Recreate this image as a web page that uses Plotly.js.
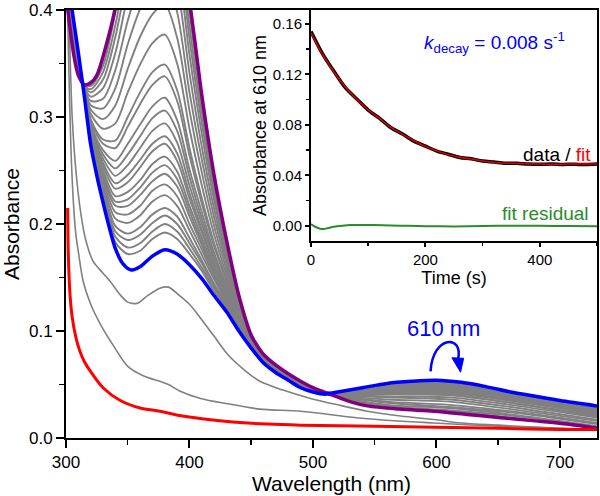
<!DOCTYPE html>
<html><head><meta charset="utf-8">
<script src="https://cdn.plot.ly/plotly-3.0.1.min.js"></script>
<style>html,body{margin:0;padding:0;background:#fff}#chart{width:600px;height:496px}</style>
</head><body><div id="chart"></div>
<script>
// ---------- main panel: spectra ----------
const grayWl = [300,307,313,320,330,340,350,360,370,380,390,400,410,420,430,440,450,460,475,490,515,560,610,660,730];
const graySpectra = [
 [.439,.383,.336,.274,.225,.183,.172,.175,.186,.192,.186,.172,.156,.137,.121,.101,.084,.070,.058,.047,.042,.050,.052,.043,.029],
 [.438,.382,.336,.276,.228,.188,.178,.182,.193,.200,.193,.177,.159,.140,.122,.102,.085,.070,.058,.047,.042,.050,.051,.042,.029],
 [.438,.382,.336,.277,.231,.193,.185,.190,.201,.208,.200,.182,.163,.142,.123,.103,.085,.071,.058,.047,.042,.049,.051,.042,.028],
 [.437,.381,.336,.278,.234,.198,.191,.197,.209,.215,.207,.187,.166,.144,.125,.103,.085,.071,.059,.048,.042,.049,.050,.041,.028],
 [.436,.380,.335,.280,.238,.205,.201,.208,.221,.227,.217,.194,.171,.148,.127,.104,.085,.071,.059,.048,.042,.048,.049,.041,.027],
 [.435,.380,.335,.281,.241,.211,.209,.217,.231,.237,.226,.200,.176,.150,.128,.105,.086,.071,.059,.048,.042,.047,.048,.040,.027],
 [.435,.379,.335,.283,.244,.217,.217,.227,.240,.247,.235,.207,.180,.153,.130,.106,.086,.071,.059,.048,.042,.047,.048,.039,.026],
 [.434,.378,.335,.284,.247,.221,.223,.234,.248,.255,.242,.212,.183,.155,.131,.107,.086,.071,.059,.048,.042,.046,.047,.039,.026],
 [.433,.378,.335,.285,.250,.226,.230,.241,.256,.263,.249,.217,.187,.158,.133,.107,.086,.072,.059,.048,.042,.046,.046,.038,.025],
 [.432,.377,.335,.287,.254,.233,.239,.253,.268,.275,.259,.224,.192,.161,.135,.108,.087,.072,.060,.049,.042,.045,.046,.038,.025],
 [.432,.376,.335,.288,.257,.238,.246,.260,.275,.282,.266,.229,.195,.163,.136,.109,.087,.072,.060,.049,.041,.045,.045,.037,.024],
 [.431,.375,.335,.290,.261,.245,.255,.271,.287,.294,.276,.236,.200,.167,.138,.110,.087,.072,.060,.049,.041,.044,.044,.036,.023],
 [.430,.374,.335,.292,.265,.252,.265,.282,.299,.306,.287,.244,.205,.170,.140,.111,.087,.072,.060,.049,.041,.043,.043,.035,.023],
 [.429,.374,.335,.294,.269,.259,.275,.293,.310,.318,.297,.251,.211,.173,.142,.112,.088,.073,.060,.049,.041,.043,.042,.035,.022],
 [.428,.372,.334,.297,.275,.271,.291,.312,.330,.338,.315,.264,.219,.179,.146,.114,.088,.073,.060,.049,.041,.042,.041,.033,.021],
 [.427,.371,.334,.298,.279,.278,.300,.323,.342,.349,.325,.271,.224,.182,.148,.115,.088,.073,.061,.050,.041,.041,.040,.033,.020],
 [.425,.369,.334,.303,.289,.294,.323,.349,.369,.377,.350,.289,.236,.190,.152,.117,.089,.074,.061,.050,.041,.039,.038,.031,.019],
 [.423,.367,.334,.307,.298,.311,.345,.375,.396,.405,.374,.306,.248,.198,.157,.119,.090,.074,.061,.050,.041,.038,.036,.029,.017],
 [.421,.365,.333,.311,.308,.327,.368,.401,.424,.432,.398,.323,.260,.206,.162,.122,.091,.075,.062,.051,.041,.036,.034,.027,.016],
 [.418,.363,.333,.315,.317,.344,.390,.426,.451,.460,.423,.341,.272,.214,.166,.124,.091,.075,.062,.051,.041,.034,.031,.025,.014],
 [.416,.361,.333,.319,.327,.360,.413,.452,.478,.487,.447,.358,.284,.222,.171,.126,.092,.076,.063,.052,.040,.033,.029,.024,.013],
 [.415,.359,.333,.323,.335,.375,.432,.475,.502,.511,.468,.373,.294,.228,.175,.128,.093,.076,.063,.052,.040,.031,.028,.022,.011],
 [.413,.358,.332,.326,.342,.386,.448,.493,.521,.531,.485,.385,.303,.234,.178,.130,.093,.076,.063,.052,.040,.030,.026,.021,.010],
 [.412,.356,.332,.329,.348,.398,.464,.512,.541,.550,.503,.398,.312,.239,.182,.131,.094,.077,.064,.052,.040,.029,.025,.019,.009]
];
const earlyAWl  = [300.5,302,304,306,308,310,314,320,328,338,350,363,376,383,392,409,431,457,490,544,598,650,700,730];
const earlyAAbs = [0.45,0.36,0.27,0.22,0.19,0.174,0.146,0.125,0.106,0.087,0.067,0.058,0.053,0.050,0.044,0.037,0.032,0.027,0.025,0.018,0.014,0.011,0.009,0.008];
const earlyBWl  = [301,303,305,308,312,316,322,330,336,343,350,358,366,376,383,390,400,409,420,431,445,457,475,498,520,544,571,600,620,650,700,730];
const earlyBAbs = [0.45,0.37,0.30,0.25,0.21,0.185,0.165,0.154,0.146,0.135,0.127,0.126,0.133,0.140,0.141,0.135,0.125,0.112,0.095,0.078,0.063,0.053,0.045,0.037,0.031,0.025,0.0205,0.017,0.014,0.012,0.009,0.008];
const redWl  = [301.3,301.8,302.5,303.5,305,308,311,315,320,330,344,360,376,392,410,435,463,490,550,600,650,700,730];
const redAbs = [0.215,0.175,0.150,0.130,0.113,0.094,0.082,0.071,0.062,0.047,0.035,0.028,0.025,0.021,0.018,0.015,0.013,0.012,0.011,0.010,0.009,0.008,0.008];
const blueWl  = [302,305,310,315,320,325,330,335,340,346,353,360,370,380,390,400,410,420,430,440,450,460,470,480,490,500,510,520,540,560,580,600,620,640,660,680,700,730];
const blueAbs = [0.43,0.40,0.36,0.318,0.274,0.245,0.220,0.197,0.177,0.163,0.157,0.160,0.170,0.176,0.172,0.162,0.149,0.133,0.118,0.100,0.084,0.070,0.061,0.054,0.047,0.043,0.041,0.043,0.047,0.051,0.053,0.054,0.052,0.048,0.043,0.039,0.035,0.030];
const purpleWl  = [300,302,306,310,315,320,325,333,339,345,350,360,370,380,390,395,400,405,410,420,430,440,450,455,460,470,480,490,500,516,530,544,570,598,625,652,680,706,730];
const purpleAbs = [0.415,0.395,0.360,0.339,0.330,0.332,0.339,0.369,0.397,0.44,0.48,0.53,0.56,0.57,0.52,0.47,0.41,0.365,0.320,0.245,0.185,0.133,0.096,0.086,0.078,0.068,0.060,0.053,0.047,0.040,0.034,0.030,0.027,0.025,0.022,0.019,0.016,0.013,0.009];
const absTicks = [0, 0.1, 0.2, 0.3, 0.4];

// ---------- inset: kinetics at 610 nm ----------
const timeData = [0,20,40,60,80,100,120,140,160,180,200,220,240,260,280,300,320,340,360,380,400,420,440,460,480,500];
const a610Data = [0.154,0.1365,0.1225,0.1095,0.1005,0.0918,0.0852,0.0778,0.0728,0.0672,0.0632,0.0593,0.0568,0.0543,0.0532,0.0514,0.0506,0.0497,0.0496,0.0490,0.0488,0.0491,0.0487,0.0489,0.0486,0.0490];
const timeFit = [0,10,20,30,40,50,60,70,80,90,100,120,140,160,180,200,220,240,260,280,300,330,360,400,450,500];
const a610Fit = [0.153,0.144,0.136,0.129,0.122,0.116,0.110,0.105,0.100,0.096,0.092,0.085,0.078,0.0725,0.0675,0.063,0.0595,0.0565,0.0545,0.053,0.0515,0.050,0.0495,0.049,0.049,0.049];
const timeRes = [0,4,10,16,22,30,40,55,70,90,110,140,170,200,250,300,350,400,450,500];
const residual = [0.0015,0.0003,-0.0012,-0.0022,-0.0024,-0.0016,-0.0006,0.0002,0.0007,0.0008,0.0007,0.0004,0.0001,-0.0002,-0.0003,0.0,0.0002,0.0001,0.0,-0.0002];

const FONT = 'Liberation Sans, Arial, Helvetica, sans-serif';
const traces = [];
const sp = {shape:'spline', smoothing:0.8};
graySpectra.forEach(s => traces.push({x:grayWl, y:s, type:'scatter', mode:'lines',
  line:Object.assign({color:'#808080', width:1.9}, sp), hoverinfo:'skip', showlegend:false}));
traces.push({x:earlyAWl, y:earlyAAbs, mode:'lines', line:Object.assign({color:'#808080', width:1.6}, sp), showlegend:false});
traces.push({x:earlyBWl, y:earlyBAbs, mode:'lines', line:Object.assign({color:'#808080', width:1.6}, sp), showlegend:false});
traces.push({x:purpleWl, y:purpleAbs, mode:'lines', line:Object.assign({color:'#800080', width:3.5}, sp), showlegend:false});
traces.push({x:blueWl, y:blueAbs, mode:'lines', line:Object.assign({color:'#0000ff', width:3.5}, sp), showlegend:false});
traces.push({x:redWl, y:redAbs, mode:'lines', line:Object.assign({color:'#ff0000', width:3}, sp), showlegend:false});
// inset
traces.push({x:timeData, y:a610Data, xaxis:'x2', yaxis:'y2', mode:'lines', line:Object.assign({color:'#000000', width:3.5}, sp), showlegend:false});
traces.push({x:timeFit, y:a610Fit, xaxis:'x2', yaxis:'y2', mode:'lines', line:Object.assign({color:'#e00000', width:1.5}, sp), showlegend:false});
traces.push({x:timeRes, y:residual, xaxis:'x2', yaxis:'y2', mode:'lines', line:Object.assign({color:'#2a8c2a', width:2}, sp), showlegend:false});

const axBase = {showline:true, linecolor:'#000', linewidth:2, mirror:true, showgrid:false, zeroline:false,
  ticks:'outside', tickcolor:'#000', tickwidth:2, ticklabeloverflow:'allow'};

const layout = {
  width:600, height:496,
  margin:{l:66, r:3, t:10, b:58},
  paper_bgcolor:'#fff', plot_bgcolor:'#fff',
  font:{family:FONT, color:'#000'},
  showlegend:false,
  xaxis:Object.assign({}, axBase, {range:[300,730], tick0:300, dtick:100, ticklen:8,
    tickfont:{size:17}, minor:{ticks:'outside', dtick:50, ticklen:5, tickwidth:1.5, tickcolor:'#000'},
    title:{text:'Wavelength (nm)', font:{size:21}, standoff:4}}),
  yaxis:Object.assign({}, axBase, {range:[0,0.4], tickmode:'array', tickvals:absTicks,
    ticktext:absTicks.map(v => v.toFixed(1)), ticklen:8,
    tickfont:{size:17}, minor:{ticks:'outside', dtick:0.05, tick0:0, ticklen:5, tickwidth:1.5, tickcolor:'#000'},
    title:{text:'Absorbance', font:{size:21}, standoff:4}}),
  xaxis2:Object.assign({}, axBase, {domain:[0.4614,1], anchor:'y2', range:[0,500], tick0:0, dtick:200, ticklen:4,
    tickfont:{size:15}, minor:{ticks:'outside', dtick:100, ticklen:3, tickwidth:1.5, tickcolor:'#000'},
    title:{text:'Time (s)', font:{size:18}, standoff:2}}),
  yaxis2:Object.assign({}, axBase, {domain:[0.4605,1], anchor:'x2', range:[-0.0118,0.171], tick0:0, dtick:0.04, tickformat:'.2f', ticklen:4,
    tickfont:{size:15}, minor:{ticks:'outside', dtick:0.02, ticklen:3, tickwidth:1.5, tickcolor:'#000'},
    title:{text:'Absorbance at 610 nm', font:{size:18}, standoff:1}}),
  annotations:[
    {xref:'x', yref:'y', x:606, y:0.102, text:'610 nm', showarrow:false, font:{size:22, color:'#0000ff'}},
    {xref:'x2', yref:'y2', x:321, y:0.145, text:'<i>k</i><sub>decay</sub> = 0.008 s<sup>-1</sup>', showarrow:false, font:{size:19, color:'#0000ff'}},
    {xref:'x2', yref:'y2', x:493, y:0.0565, xanchor:'right', text:'data / <span style="color:#ff0000">fit</span>', showarrow:false, font:{size:19, color:'#000'}},
    {xref:'x2', yref:'y2', x:490, y:0.0096, xanchor:'right', text:'fit residual', showarrow:false, font:{size:19, color:'#2a8c2a'}}
  ],
  shapes:[
    {type:'path', xref:'x', yref:'y', path:'M 595.2,0.0623 C 597,0.0967 622,0.0967 617.5,0.0740', line:{color:'#0000ff', width:2.5}},
    {type:'path', xref:'x', yref:'y', path:'M 612.5,0.0750 L 622,0.0745 L 619.5,0.0615 Z', fillcolor:'#0000ff', line:{color:'#0000ff', width:1}}
  ]
};
Plotly.newPlot('chart', traces, layout, {staticPlot:true, displayModeBar:false});
</script></body></html>
